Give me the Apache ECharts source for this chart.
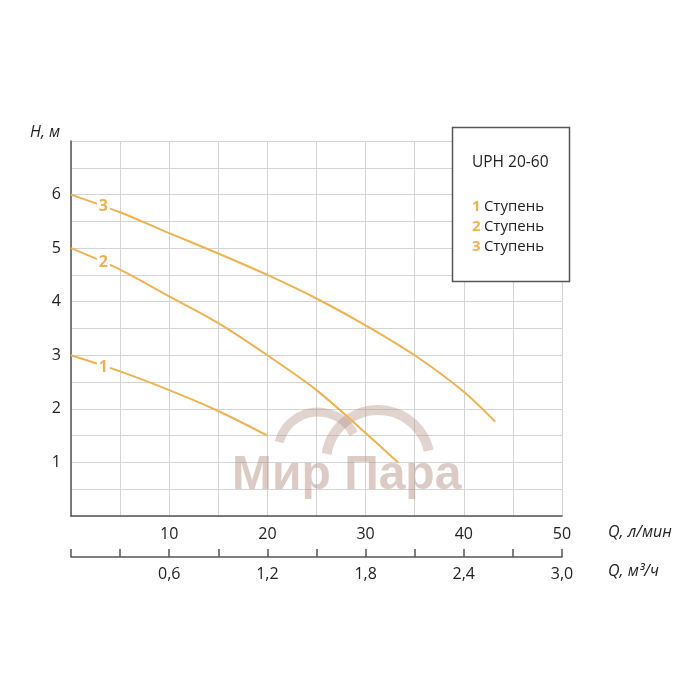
<!DOCTYPE html>
<html>
<head>
<meta charset="utf-8">
<script src="https://cdn.jsdelivr.net/npm/echarts@6/dist/echarts.min.js"></script>
<style>
  html, body { margin: 0; padding: 0; background: #fff; }
  #chart { width: 700px; height: 700px; }
</style>
</head>
<body>
<div id="chart"></div>
<script>
// Q, л/мин -> H, м for each stage
var flow1 = [0, 5, 10, 15, 20]
var head1 = [3.0, 2.7, 2.35, 1.96, 1.5]
var flow2 = [0, 5, 10, 15, 20, 25, 30, 33.3]
var head2 = [5.0, 4.6, 4.1, 3.6, 3.0, 2.35, 1.55, 1.0]
var flow3 = [0, 5, 10, 15, 20, 25, 30, 35, 40, 43.2]
var head3 = [6.0, 5.67, 5.28, 4.9, 4.5, 4.06, 3.56, 3.0, 2.32, 1.76]

var stageNames = ['1', '2', '3']
var tagFlow = 3.3                // where the stage number sits on each curve
var tagHead = [2.78, 4.73, 5.78]

var modelName = 'UPH 20-60'
var stageWord = 'Ступень'

var ORANGE = '#efb253'
var FONT = '"Open Sans", "DejaVu Sans", sans-serif'

function pairs(xs, ys) {
  return xs.map(function (x, i) { return [x, ys[i]] })
}

function curve(name, xs, ys, idx) {
  return {
    name: name,
    type: 'line',
    xAxisIndex: 0,
    data: pairs(xs, ys),
    smooth: 0.3,
    symbol: 'none',
    lineStyle: { color: ORANGE, width: 2 },
    itemStyle: { color: ORANGE },
    markPoint: {
      symbol: 'rect',
      symbolSize: [13, 18],
      itemStyle: { color: '#fff' },
      label: {
        show: true,
        formatter: name,
        color: ORANGE,
        fontWeight: 'bold',
        fontSize: 16,
        fontFamily: FONT
      },
      data: [{ coord: [tagFlow, tagHead[idx]] }]
    }
  }
}

var chart = echarts.init(document.getElementById('chart'))

chart.setOption({
  backgroundColor: '#fff',
  animation: false,
  grid: { left: 71, right: 138, top: 141, bottom: 184 },
  title: {
    text: modelName,
    left: 472,
    top: 155,
    padding: 0,
    textStyle: { fontSize: 15.5, fontWeight: 'normal', color: '#222', fontFamily: FONT }
  },
  legend: {
    orient: 'vertical',
    left: 467,
    top: 197,
    padding: 0,
    itemGap: 0,
    itemWidth: 0,
    itemHeight: 14,
    icon: 'none',
    selectedMode: false,
    data: stageNames,
    formatter: function (name) {
      return '{n|' + name + '} {t|' + stageWord + '}'
    },
    textStyle: {
      lineHeight: 20,
      rich: {
        n: { color: ORANGE, fontSize: 15, fontWeight: 'bold', fontFamily: FONT, lineHeight: 20 },
        t: { color: '#222', fontSize: 15, fontFamily: FONT, lineHeight: 20 }
      }
    }
  },
  xAxis: [
    {
      type: 'value',
      min: 0,
      max: 50,
      interval: 5,
      axisLine: { lineStyle: { color: '#555', width: 1.5 } },
      axisTick: { show: false },
      splitLine: { show: true, lineStyle: { color: '#d4d4d4', width: 1 } },
      axisLabel: {
        margin: 10,
        color: '#222',
        fontSize: 16,
        fontFamily: FONT,
        formatter: function (v) {
          return (v > 0 && v % 10 === 0) ? String(v) : ''
        }
      }
    },
    {
      type: 'value',
      position: 'bottom',
      offset: 41,
      min: 0,
      max: 3,
      interval: 0.3,
      axisLine: { lineStyle: { color: '#555', width: 1.5 } },
      axisTick: { show: true, inside: true, length: 8, lineStyle: { color: '#555', width: 1.5 } },
      splitLine: { show: false },
      axisLabel: {
        margin: 9,
        color: '#222',
        fontSize: 16,
        fontFamily: FONT,
        formatter: function (v) {
          var k = v / 0.6
          if (v > 0 && Math.abs(k - Math.round(k)) < 1e-6) {
            return v.toFixed(1).replace('.', ',')
          }
          return ''
        }
      }
    }
  ],
  yAxis: {
    type: 'value',
    min: 0,
    max: 7,
    interval: 0.5,
    axisLine: { show: true, lineStyle: { color: '#555', width: 1.5 } },
    axisTick: { show: false },
    splitLine: { show: true, lineStyle: { color: '#d4d4d4', width: 1 } },
    axisLabel: {
      margin: 10,
      color: '#222',
      fontSize: 16,
      fontFamily: FONT,
      formatter: function (v) {
        return (v >= 1 && v <= 6 && v % 1 === 0) ? String(v) : ''
      }
    }
  },
  graphic: [
    // watermark
    {
      type: 'arc', z: 1,
      shape: { cx: 318, cy: 452, r: 40, startAngle: Math.PI * 1.08, endAngle: Math.PI * 1.85 },
      style: { stroke: 'rgba(175,140,125,0.38)', lineWidth: 9, fill: null }
    },
    {
      type: 'arc', z: 1,
      shape: { cx: 378, cy: 462, r: 52, startAngle: Math.PI * 1.05, endAngle: Math.PI * 1.93 },
      style: { stroke: 'rgba(175,140,125,0.38)', lineWidth: 10, fill: null }
    },
    {
      type: 'text', z: 1,
      left: 232, top: 452,
      style: {
        text: 'Мир Пара',
        font: 'bold 48px "Liberation Sans", Arial, sans-serif',
        fill: 'rgba(175,140,125,0.45)'
      }
    },
    // model box
    {
      type: 'rect', z: 3,
      shape: { x: 452.5, y: 127.5, width: 117, height: 154 },
      style: { fill: '#fff', stroke: '#555', lineWidth: 1.5 }
    },
    // axis names
    {
      type: 'text', z: 5,
      left: 608, top: 524,
      style: { text: 'Q, л/мин', font: 'italic 16px ' + FONT, fill: '#222' }
    },
    {
      type: 'text', z: 5,
      left: 608, top: 563,
      style: { text: 'Q, м³/ч', font: 'italic 16px ' + FONT, fill: '#222' }
    },
    {
      type: 'text', z: 5,
      left: 30, top: 124,
      style: { text: 'H, м', font: 'italic 16px ' + FONT, fill: '#222' }
    }
  ],
  series: [
    curve(stageNames[0], flow1, head1, 0),
    curve(stageNames[1], flow2, head2, 1),
    curve(stageNames[2], flow3, head3, 2)
  ]
})
</script>
</body>
</html>
